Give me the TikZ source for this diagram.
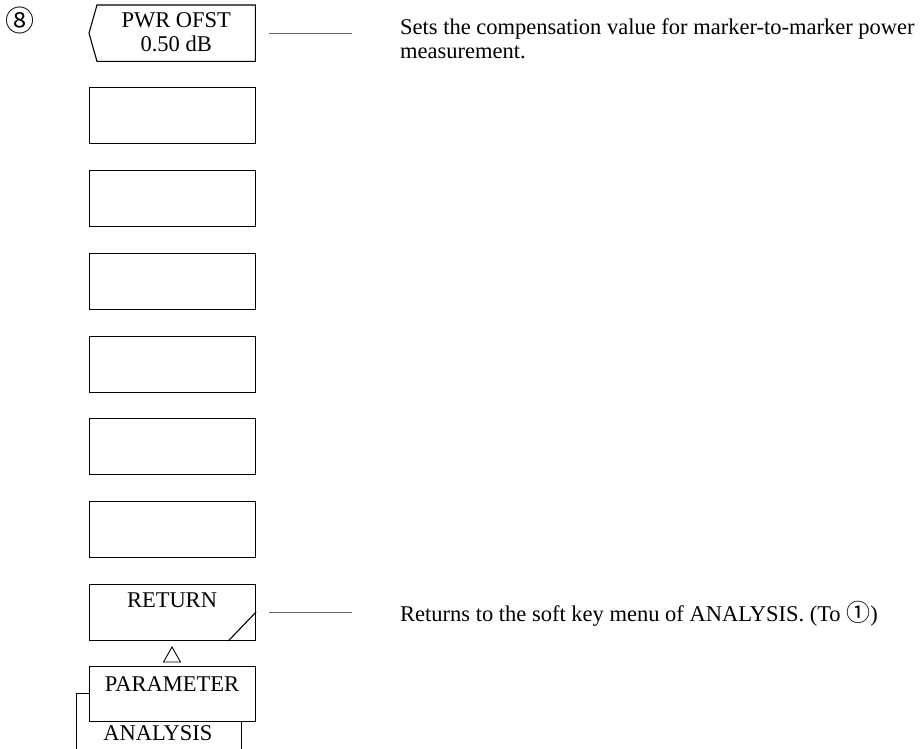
\documentclass[tikz,border=0pt]{standalone}
\usepackage{fontspec}
\setmainfont{Liberation Serif}
\newfontfamily\cjk{Noto Sans CJK JP}
\begin{document}
\begin{tikzpicture}[x=1pt,y=-1pt,
  keybox/.style={draw,line width=1.1pt,fill=white,minimum width=166pt,minimum height=56pt,inner sep=0pt,anchor=north west},
  keytext/.style={font=\fontsize{22.5}{24}\selectfont,inner sep=0pt},
  desc/.style={font=\fontsize{22.5}{24}\selectfont,inner sep=0pt,anchor=base west,align=left},
  lead/.style={gray!80!black,line width=0.8pt}]
\useasboundingbox (0,0) rectangle (921,749);
% circled number
\node[font=\cjk\fontsize{29}{30}\selectfont,inner sep=0pt] (num) at (20,20) {⑧};
% PWR OFST key with left notch
\node[minimum width=166pt,minimum height=56pt,inner sep=0pt,anchor=north west] (pwr) at (89,5) {};
\draw[line width=1.1pt] ([xshift=8pt]pwr.north west) -- (pwr.north east) -- (pwr.south east) -- ([xshift=8pt]pwr.south west) -- (pwr.west) -- cycle;
\node[keytext,align=center] (pwrt) at ([xshift=4pt,yshift=1pt]pwr.center) {PWR OFST\\0.50 dB};
% empty keys
\node[keybox] (k2) at (89,87) {};
\node[keybox] (k3) at (89,170) {};
\node[keybox] (k4) at (89,253) {};
\node[keybox] (k5) at (89,336) {};
\node[keybox] (k6) at (89,418) {};
\node[keybox] (k7) at (89,501) {};
% RETURN key
\node[keybox] (ret) at (89,584) {};
\node[keytext] (rett) at (172,600) {RETURN};
\draw[line width=1.1pt] ([yshift=-28pt]ret.north east) -- ([xshift=-28pt]ret.south east);
% triangle
\coordinate (tri) at (172,647);
\draw[line width=0.9pt] (tri) -- ++(-8.5,15) -- ++(17,0) -- cycle;
% ANALYSIS (behind) and PARAMETER
\node[draw,line width=1.1pt,fill=white,minimum width=165pt,minimum height=70pt,inner sep=0pt,anchor=north west] (ana) at (76,693) {};
\node[keytext] (anat) at (158,733) {ANALYSIS};
\node[keybox,minimum height=55pt] (par) at (89,666) {};
\node[keytext] (part) at (172,684) {PARAMETER};
% descriptions
\node[desc] (d1) at (400,59) {Sets the compensation value for marker-to-marker power\\measurement.};
\node[desc] (d2) at (400,621) {Returns to the soft key menu of ANALYSIS. (To~{\cjk\fontsize{24}{24}\selectfont ①})};
% leaders
\draw[lead] ([xshift=14pt]pwr.east) -- ([xshift=-48pt]d1.west |- pwr.east);
\draw[lead] ([xshift=13pt]ret.east) -- ([xshift=-48pt]d2.west |- ret.east);
\end{tikzpicture}
\end{document}
